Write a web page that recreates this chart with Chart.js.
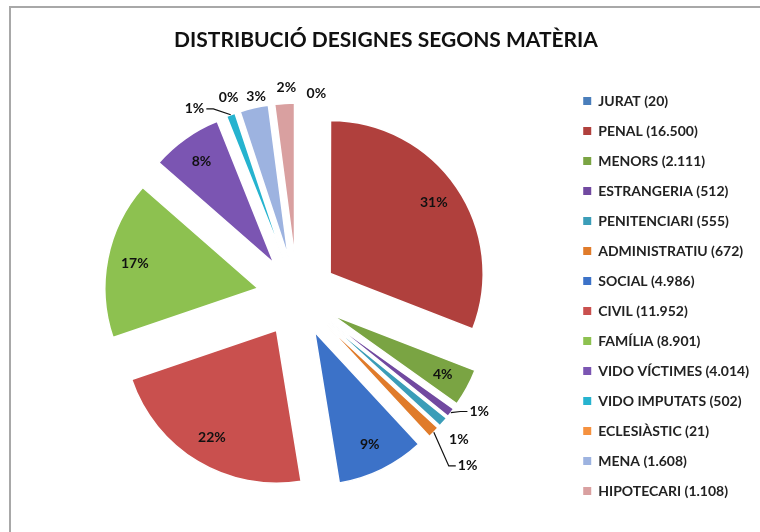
<!DOCTYPE html>
<html>
<head>
<meta charset="utf-8">
<script src="https://cdn.jsdelivr.net/npm/chart.js@4/dist/chart.umd.min.js"></script>
<style>
  html, body { margin: 0; padding: 0; background: #fff; }
  #wrap { width: 760px; height: 532px; position: relative; }
</style>
</head>
<body>
<div id="wrap"><canvas id="chart"></canvas></div>
<script>
// Chart data
const categories = ['JURAT', 'PENAL', 'MENORS', 'ESTRANGERIA', 'PENITENCIARI', 'ADMINISTRATIU', 'SOCIAL',
  'CIVIL', 'FAMÍLIA', 'VIDO VÍCTIMES', 'VIDO IMPUTATS', 'ECLESIÀSTIC', 'MENA', 'HIPOTECARI'];
const designations = [20, 16500, 2111, 512, 555, 672, 4986, 11952, 8901, 4014, 502, 21, 1608, 1108];
const sliceColors = ['#4A7EBB', '#B0403D', '#7AA443', '#7149A0', '#3B9DB8', '#E07B2A', '#3C72C8',
  '#C9504E', '#8DC150', '#7B55B2', '#26B3CF', '#F5913F', '#9DB3E0', '#D9A0A0'];

const TITLE = 'DISTRIBUCIÓ DESIGNES SEGONS MATÈRIA';
const FONT = 'Lato, "Open Sans", sans-serif';
const EXPLODE = 40; // px each slice is pulled out from the centre

// Catalan thousands separator: 16500 -> 16.500
function formatNumber(v) {
  return String(v).replace(/\B(?=(\d{3})+(?!\d))/g, '.');
}

// Pull every slice out along its middle angle without growing its radius
const baseArcDraw = Chart.ArcElement.prototype.draw;
Chart.ArcElement.prototype.draw = function (ctx) {
  const mid = (this.startAngle + this.endAngle) / 2;
  ctx.save();
  ctx.translate(Math.cos(mid) * EXPLODE, Math.sin(mid) * EXPLODE);
  baseArcDraw.call(this, ctx);
  ctx.restore();
};

// Frame and title
const framePlugin = {
  id: 'frame',
  beforeDraw(chart) {
    const ctx = chart.ctx;
    ctx.save();
    ctx.fillStyle = '#fff';
    ctx.fillRect(0, 0, chart.width, chart.height);
    ctx.strokeStyle = '#a8a8a8';
    ctx.lineWidth = 2;
    ctx.strokeRect(10, 7, chart.width + 20, chart.height + 20);
    ctx.restore();
  },
  afterDraw(chart, args, opts) {
    const ctx = chart.ctx;
    ctx.save();
    ctx.font = 'bold 21px ' + FONT;
    ctx.fillStyle = '#111';
    ctx.textAlign = 'center';
    ctx.textBaseline = 'middle';
    ctx.fillText(opts.text, opts.x, opts.y);
    ctx.restore();
  }
};

// Percentage labels: inside big slices, outside (with optional leader line) for small ones
const sliceLabels = {
  id: 'sliceLabels',
  afterDatasetsDraw(chart, args, opts) {
    const ctx = chart.ctx;
    const meta = chart.getDatasetMeta(0);
    const values = chart.data.datasets[0].data;
    const total = values.reduce((a, b) => a + b, 0);
    ctx.save();
    ctx.font = 'bold 14px ' + FONT;
    ctx.fillStyle = '#111';
    ctx.strokeStyle = '#111';
    ctx.lineWidth = 1.2;
    ctx.textAlign = 'center';
    ctx.textBaseline = 'middle';
    meta.data.forEach((arc, i) => {
      const share = values[i] / total;
      const text = Math.round(share * 100) + '%';
      const mid = (arc.startAngle + arc.endAngle) / 2;
      const cos = Math.cos(mid);
      const sin = Math.sin(mid);
      const cx = arc.x + cos * EXPLODE;
      const cy = arc.y + sin * EXPLODE;
      const r = arc.outerRadius;
      if (share >= opts.insideMin) {
        ctx.fillText(text, cx + cos * r * 0.82, cy + sin * r * 0.82);
        return;
      }
      const nudge = opts.nudge[i] || [0, 0];
      const lx = cx + cos * (r + opts.gap) + nudge[0];
      const ly = cy + sin * (r + opts.gap) + nudge[1];
      ctx.fillText(text, lx, ly);
      if (opts.leaders.includes(i)) {
        const px = cx + cos * r;
        const py = cy + sin * r;
        const side = lx > px ? -1 : 1;
        const ex = lx + side * (ctx.measureText(text).width / 2 + 2);
        ctx.beginPath();
        ctx.moveTo(px, py);
        ctx.lineTo(ex + side * 7, ly);
        ctx.lineTo(ex, ly);
        ctx.stroke();
      }
    });
    ctx.restore();
  }
};

new Chart(document.getElementById('chart'), {
  type: 'pie',
  data: {
    labels: categories.map((c, i) => c + ' (' + formatNumber(designations[i]) + ')'),
    datasets: [{
      data: designations,
      backgroundColor: sliceColors,
      borderColor: '#fff',
      borderWidth: 1.5,
    }],
  },
  options: {
    responsive: true,
    maintainAspectRatio: false,
    animation: false,
    radius: 153,
    layout: { padding: { left: 27, right: 1, top: 60, bottom: 0 } },
    plugins: {
      title: { display: false },
      tooltip: { enabled: false },
      legend: {
        position: 'right',
        labels: {
          boxWidth: 8,
          boxHeight: 8,
          padding: 16,
          color: '#222',
          font: { family: FONT, size: 14, weight: 'bold' },
          generateLabels(chart) {
            const items = Chart.overrides.doughnut.plugins.legend.labels.generateLabels(chart);
            items.forEach(item => { item.lineWidth = 0; item.strokeStyle = item.fillStyle; });
            return items;
          },
        },
      },
      frame: { text: TITLE, x: 386, y: 40 },
      sliceLabels: {
        insideMin: 0.035,
        gap: 18,
        leaders: [3, 5, 10],
        nudge: { 0: [19, 8], 13: [3, 2], 12: [6, 6], 11: [-2, 2], 10: [-30, 11], 3: [14, -12], 4: [2, 6], 5: [21, 21] },
      },
    },
  },
  plugins: [framePlugin, sliceLabels],
});
</script>
</body>
</html>
